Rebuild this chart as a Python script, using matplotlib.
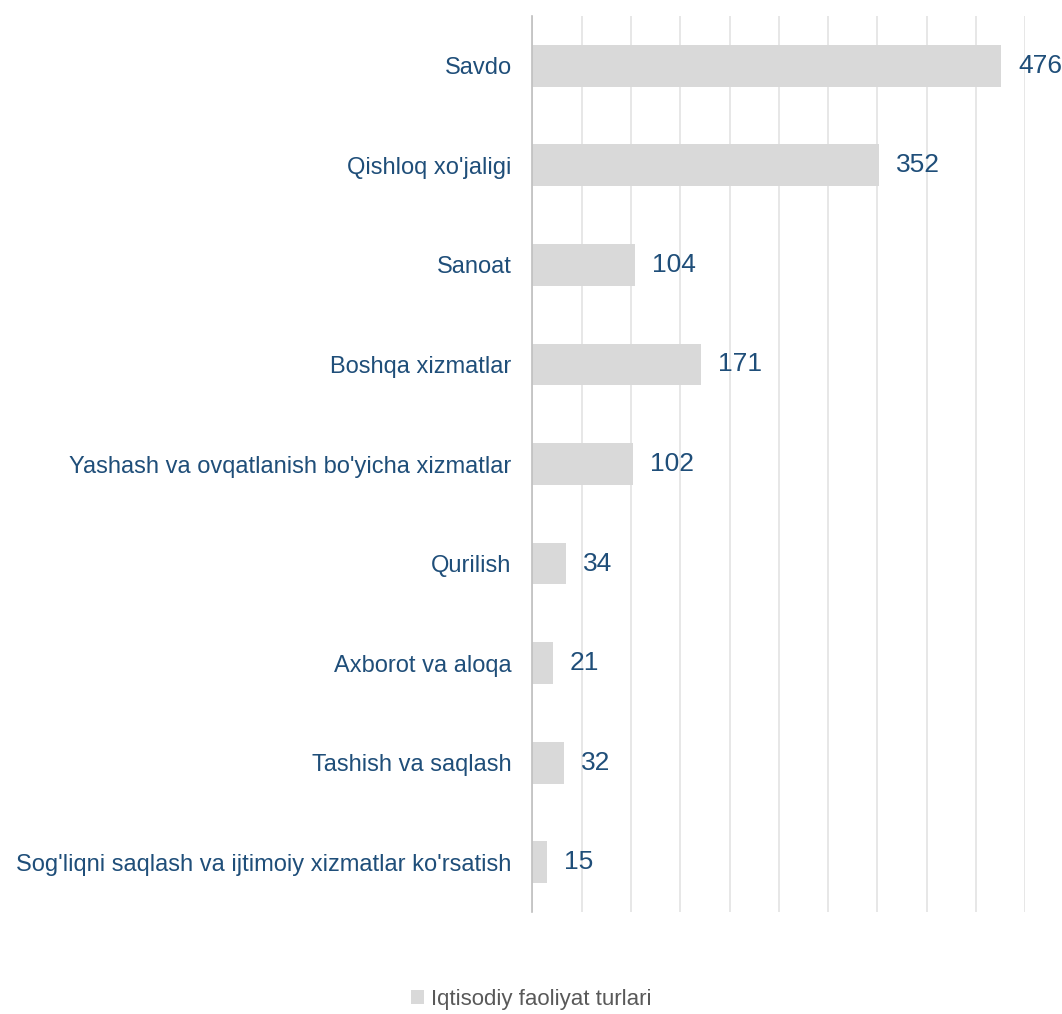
import matplotlib.pyplot as plt
from matplotlib.patches import Patch

plt.rcParams['font.family'] = ['Liberation Sans', 'DejaVu Sans']

# Data
categories = ["Savdo", "Qishloq xo'jaligi", "Sanoat", "Boshqa xizmatlar",
              "Yashash va ovqatlanish bo'yicha xizmatlar", "Qurilish",
              "Axborot va aloqa", "Tashish va saqlash",
              "Sog'liqni saqlash va ijtimoiy xizmatlar ko'rsatish"]
values = [476, 352, 104, 171, 102, 34, 21, 32, 15]
series_name = "Iqtisodiy faoliyat turlari"

label_color = '#1F4E79'
bar_color = '#D9D9D9'

fig = plt.figure(figsize=(10.62, 10.14), dpi=100)
ax = fig.add_axes([0.5014, 0.1006, 0.4638, 0.8836])

y = list(range(len(categories)))
bars = ax.barh(y, values, height=0.42, color=bar_color, zorder=2)

ax.set_xlim(0, 500)
ax.set_ylim(len(categories) - 0.5, -0.5)
ax.set_xticks(range(0, 501, 50))
ax.set_xticklabels([])
ax.tick_params(axis='x', length=0)
ax.set_yticks(y)
ax.set_yticklabels(categories, fontsize=17, color=label_color)
ax.tick_params(axis='y', length=0, pad=15)
ax.grid(axis='x', color='#E3E3E3', linewidth=1.2, zorder=0)

for s in ['top', 'right', 'bottom']:
    ax.spines[s].set_visible(False)
ax.spines['left'].set_color('#BFBFBF')
ax.spines['left'].set_linewidth(1.2)
ax.spines['left'].set_zorder(3)

for b, v in zip(bars, values):
    ax.annotate(str(v), (b.get_width(), b.get_y() + b.get_height() / 2),
                xytext=(12, 0), textcoords='offset points', ha='left', va='center',
                fontsize=19, color=label_color)

handle = Patch(facecolor=bar_color, edgecolor='none')
fig.legend([handle], [series_name], loc='center', bbox_to_anchor=(0.5, 0.0145),
           frameon=False, fontsize=16, handlelength=0.6, handleheight=0.6,
           handletextpad=0.3, labelcolor='#595959')

fig.savefig('out.png', dpi=100)
